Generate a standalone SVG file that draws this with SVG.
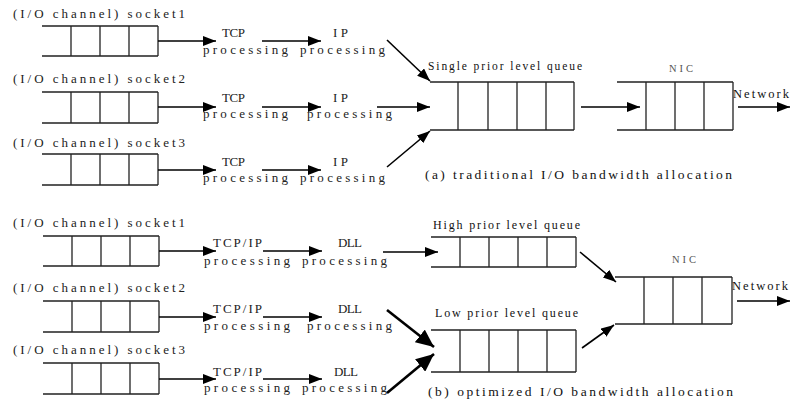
<svg xmlns="http://www.w3.org/2000/svg" width="790" height="406" viewBox="0 0 790 406">
<defs>
<marker id="ah" markerUnits="userSpaceOnUse" markerWidth="13" markerHeight="10" refX="13" refY="5" orient="auto"><path d="M0,0 L13,5 L0,10 z" fill="#000"/></marker>
<marker id="ahb" markerUnits="userSpaceOnUse" markerWidth="18" markerHeight="16" refX="18" refY="8" orient="auto"><path d="M0,0 L18,8 L0,16 z" fill="#000"/></marker>
<style>
.q{fill:none;stroke:#222;stroke-width:1.3}
.a{fill:none;stroke:#000;stroke-width:1.6;marker-end:url(#ah)}
.ab{fill:none;stroke:#000;stroke-width:2.6;marker-end:url(#ahb)}
.m{font-family:"Liberation Serif","Noto Sans CJK SC",serif;font-size:13px;fill:#222}
.s{font-family:"Liberation Serif","Times New Roman",serif;fill:#111}
</style>
</defs>
<rect width="790" height="406" fill="#fff"/>

<!-- top section -->
<g id="sockA1">
<text class="m" x="13" y="18" textLength="172" lengthAdjust="spacing">(I/O channel) socket1</text>
<path class="q" d="M42,26 H158 M42,56 H158 M71,26 V56 M100,26 V56 M129,26 V56 M158,26 V56"/>
</g>
<g id="tcpA1"><text class="m" x="222" y="37" textLength="23" lengthAdjust="spacing">TCP</text><text class="m" x="203" y="54" textLength="85" lengthAdjust="spacing">processing</text></g>
<g id="ipA1"><text class="m" x="333" y="37" textLength="15" lengthAdjust="spacing">IP</text><text class="m" x="300" y="54" textLength="85" lengthAdjust="spacing">processing</text></g>

<g id="sockA2">
<text class="m" x="13" y="83" textLength="172" lengthAdjust="spacing">(I/O channel) socket2</text>
<path class="q" d="M42,92 H158 M42,123 H158 M71,92 V123 M100,92 V123 M129,92 V123 M158,92 V123"/>
</g>
<g id="tcpA2"><text class="m" x="222" y="102" textLength="23" lengthAdjust="spacing">TCP</text><text class="m" x="203" y="118" textLength="85" lengthAdjust="spacing">processing</text></g>
<g id="ipA2"><text class="m" x="333" y="102" textLength="15" lengthAdjust="spacing">IP</text><text class="m" x="307" y="118" textLength="85" lengthAdjust="spacing">processing</text></g>

<g id="sockA3">
<text class="m" x="13" y="147" textLength="172" lengthAdjust="spacing">(I/O channel) socket3</text>
<path class="q" d="M42,154 H158 M42,185 H158 M71,154 V185 M100,154 V185 M129,154 V185 M158,154 V185"/>
</g>
<g id="tcpA3"><text class="m" x="222" y="166" textLength="23" lengthAdjust="spacing">TCP</text><text class="m" x="203" y="182" textLength="85" lengthAdjust="spacing">processing</text></g>
<g id="ipA3"><text class="m" x="333" y="166" textLength="15" lengthAdjust="spacing">IP</text><text class="m" x="300" y="182" textLength="85" lengthAdjust="spacing">processing</text></g>

<g id="singleQueue">
<text class="s" x="428" y="70" font-size="11.5" textLength="154" lengthAdjust="spacing">Single prior level queue</text>
<path class="q" d="M430,82 H574 M430,130 H574 M458,82 V130 M488,82 V130 M517,82 V130 M546,82 V130 M574,82 V130"/>
</g>
<g id="nicA">
<text class="s" x="669" y="72" font-size="10.5" style="fill:#555" textLength="24" lengthAdjust="spacing">NIC</text>
<path class="q" d="M617,82 H733 M617,130 H733 M646,82 V130 M675,82 V130 M704,82 V130 M733,82 V130"/>
<text class="s" x="733" y="98" font-size="12.5" textLength="56" lengthAdjust="spacing">Network</text>
</g>
<text class="s" x="425" y="179" font-size="13.5" textLength="307" lengthAdjust="spacing">(a) traditional I/O bandwidth allocation</text>

<!-- bottom section -->
<g id="sockB1">
<text class="m" x="13" y="227" textLength="172" lengthAdjust="spacing">(I/O channel) socket1</text>
<path class="q" d="M43,236 H159 M43,266 H159 M72,236 V266 M101,236 V266 M130,236 V266 M159,236 V266"/>
</g>
<g id="tcpB1"><text class="m" x="213" y="247" textLength="49" lengthAdjust="spacing">TCP/IP</text><text class="m" x="204" y="265" textLength="86" lengthAdjust="spacing">processing</text></g>
<g id="dllB1"><text class="m" x="338" y="247" textLength="24" lengthAdjust="spacing">DLL</text><text class="m" x="302" y="265" textLength="85" lengthAdjust="spacing">processing</text></g>

<g id="sockB2">
<text class="m" x="13" y="292" textLength="172" lengthAdjust="spacing">(I/O channel) socket2</text>
<path class="q" d="M43,301 H159 M43,332 H159 M72,301 V332 M101,301 V332 M130,301 V332 M159,301 V332"/>
</g>
<g id="tcpB2"><text class="m" x="213" y="313" textLength="49" lengthAdjust="spacing">TCP/IP</text><text class="m" x="204" y="330" textLength="86" lengthAdjust="spacing">processing</text></g>
<g id="dllB2"><text class="m" x="338" y="313" textLength="24" lengthAdjust="spacing">DLL</text><text class="m" x="307" y="330" textLength="85" lengthAdjust="spacing">processing</text></g>

<g id="sockB3">
<text class="m" x="13" y="354" textLength="172" lengthAdjust="spacing">(I/O channel) socket3</text>
<path class="q" d="M43,363 H159 M43,394 H159 M72,363 V394 M101,363 V394 M130,363 V394 M159,363 V394"/>
</g>
<g id="tcpB3"><text class="m" x="213" y="376" textLength="49" lengthAdjust="spacing">TCP/IP</text><text class="m" x="204" y="392" textLength="86" lengthAdjust="spacing">processing</text></g>
<g id="dllB3"><text class="m" x="334" y="376" textLength="24" lengthAdjust="spacing">DLL</text><text class="m" x="302" y="392" textLength="85" lengthAdjust="spacing">processing</text></g>

<g id="highQueue">
<text class="s" x="433" y="229" font-size="12" textLength="147" lengthAdjust="spacing">High prior level queue</text>
<path class="q" d="M431,237 H576 M431,267 H576 M460,237 V267 M489,237 V267 M518,237 V267 M547,237 V267 M576,237 V267"/>
</g>
<g id="lowQueue">
<text class="s" x="435" y="317" font-size="12" textLength="143" lengthAdjust="spacing">Low prior level queue</text>
<path class="q" d="M431,330 H576 M431,372 H576 M460,330 V372 M489,330 V372 M518,330 V372 M547,330 V372 M576,330 V372"/>
</g>
<g id="nicB">
<text class="s" x="672" y="263" font-size="10.5" style="fill:#555" textLength="24" lengthAdjust="spacing">NIC</text>
<path class="q" d="M615,277 H732 M615,324 H732 M644,277 V324 M673,277 V324 M702,277 V324 M732,277 V324"/>
<text class="s" x="732" y="290" font-size="12.5" textLength="56" lengthAdjust="spacing">Network</text>
</g>
<text class="s" x="428" y="396" font-size="13.5" textLength="305" lengthAdjust="spacing">(b) optimized I/O bandwidth allocation</text>

<g id="connectors">
<path class="a" d="M158,41 H216"/>
<path class="a" d="M262,41 H321"/>
<path class="a" d="M158,107 H216"/>
<path class="a" d="M262,107 H321"/>
<path class="a" d="M158,170 H216"/>
<path class="a" d="M262,170 H321"/>
<path class="a" d="M387,40 L430,81"/>
<path class="a" d="M377,107 H430"/>
<path class="a" d="M387,167 L430,131"/>
<path class="a" d="M581,107 H640"/>
<path class="a" d="M738,107 H790"/>

<path class="a" d="M159,251 H216"/>
<path class="a" d="M263,251 H322"/>
<path class="a" d="M159,317 H216"/>
<path class="a" d="M263,317 H322"/>
<path class="a" d="M159,379 H216"/>
<path class="a" d="M263,379 H322"/>
<path class="a" d="M383,252 H438"/>
<path class="ab" d="M387,310 L434,347"/>
<path class="ab" d="M387,393 L434,354"/>
<path class="a" d="M580,252 L616,282"/>
<path class="a" d="M582,348 L614,325"/>
<path class="a" d="M737,301 H790"/>
</g>
</svg>
